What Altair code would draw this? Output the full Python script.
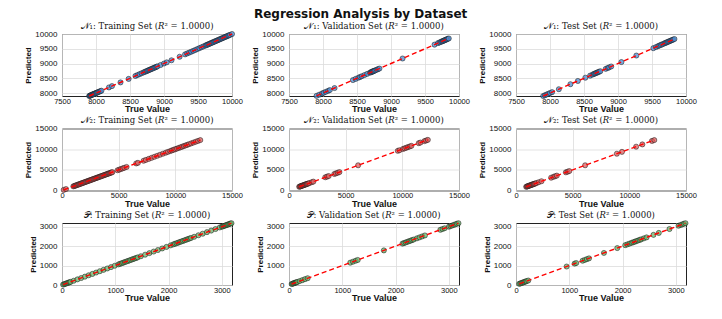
import altair as alt
import pandas as pd

# ---- values (points sit on the identity line, R^2 = 1) ----
n1_train = [7900, 7908, 7916, 7924, 7932, 7940, 7948, 7956, 7964, 7972, 7980, 7990, 8000, 8010, 8022,
            8035, 8050, 8065, 8080, 8190, 8235, 8360, 8480,
            8580, 8610, 8640, 8670, 8700, 8720, 8740, 8755, 8770, 8785, 8800, 8815, 8830, 8845, 8860,
            8875, 8890, 8905, 8950, 9000, 9040, 9110, 9230, 9310, 9340, 9370,
            9400, 9430, 9460, 9490, 9520, 9550, 9580, 9610, 9625, 9640, 9655, 9670, 9685, 9700, 9715,
            9730, 9745, 9760, 9775, 9790, 9805, 9820, 9835, 9850, 9865, 9880, 9895, 9910, 9925, 9940,
            9955, 9970, 10000]
n1_val = [7905, 7945, 7985, 8010, 8040, 8075, 8100, 8170,
          8440, 8480, 8520, 8545, 8570, 8610, 8650, 8690, 8705, 8715, 8725, 8735, 8745, 8755, 8770,
          8790, 8810, 8830, 9170,
          9640, 9690, 9715, 9735, 9750, 9762, 9774, 9786, 9798, 9810, 9822, 9835, 9850]
n1_test = [7900, 7925, 7950, 7975, 8000, 8030, 8130,
           8300, 8410, 8520, 8590, 8625, 8645, 8660, 8675, 8690, 8705, 8720, 8740, 8820, 8850, 8870,
           8900, 9050, 9270,
           9520, 9560, 9590, 9610, 9630, 9650, 9670, 9690, 9705, 9720, 9735, 9750, 9765, 9780, 9795,
           9810, 9830]

n2_train = [150, 350, 1000, 1080, 1160, 1240, 1320, 1400, 1480, 1560, 1640, 1720, 1800, 1880, 1960,
            2040, 2120, 2200, 2280, 2360, 2440, 2520, 2600, 2680, 2760, 2840, 2920, 3000, 3080, 3160,
            3240, 3320, 3400, 3480, 3560, 3640, 3720, 3800, 3880, 3960, 4040, 4120, 4200, 4280, 4360,
            4440, 4900, 5050, 5200, 5350, 5500, 5700, 6550, 6700, 7200, 7400, 7650, 7900, 8150, 8400,
            8650, 8900, 9150, 9350, 9550, 9700, 9850, 10000, 10150, 10300, 10450, 10600, 10750, 10900,
            11050, 11200, 11400, 11600, 11800, 12000, 12200]
n2_val = [900, 960, 1020, 1080, 1140, 1200, 1260, 1320, 1380, 1440, 1500, 1560, 1620, 1700, 1800,
          2000, 2150, 3200, 3350, 3500, 4000, 4150, 4300, 4450, 6100, 9600, 9750, 10050, 10200,
          10350, 10500, 10650, 10800, 11450, 11600, 11950, 12100, 12250]
n2_test = [900, 960, 1020, 1080, 1140, 1200, 1260, 1320, 1380, 1440, 1500, 1560, 1620, 1700, 1800,
           2000, 2250, 3100, 3300, 3450, 3600, 4400, 4550, 4700, 6100, 8900, 9350, 10600, 11150,
           12000, 12200]

p_train = [20, 40, 60, 80, 100, 120, 140, 160, 220, 290, 360, 430, 500, 570, 640, 710, 780, 850, 920,
           990, 1060, 1090, 1120, 1150, 1180, 1210, 1240, 1270, 1300, 1330, 1360, 1390, 1420, 1480,
           1560, 1640, 1720, 1800, 1880, 1960, 2040, 2090, 2120, 2150, 2180, 2210, 2240, 2270, 2300,
           2330, 2360, 2390, 2420, 2480, 2560, 2640, 2720, 2800, 2880, 2960, 3000, 3020, 3040, 3060,
           3080, 3100, 3120, 3140, 3160, 3180]
p_val = [50, 65, 80, 95, 110, 125, 140, 155, 200, 250, 300, 350, 1150, 1200, 1250, 1290, 1780, 2130,
         2160, 2190, 2220, 2250, 2280, 2310, 2340, 2400, 2450, 2500, 2550, 2840, 2880, 2920, 3000,
         3030, 3060, 3090, 3120, 3150, 3180]
p_test = [60, 80, 100, 120, 140, 160, 180, 200, 230, 950, 1100, 1130, 1250, 1290, 1330, 1370, 1650,
          1900, 2050, 2090, 2130, 2170, 2200, 2230, 2260, 2290, 2320, 2350, 2400, 2450, 2580, 2680,
          2880, 3050, 3090, 3120, 3150, 3180]

row_names = ["\U0001D4A9\u2081", "\U0001D4A9\u2082", "\U0001D4AB"]
set_names = ["Training Set", "Validation Set", "Test Set"]
r2_text = "1.0000"
row_data = [[n1_train, n1_val, n1_test], [n2_train, n2_val, n2_test], [p_train, p_val, p_test]]
row_colors = ["#4d8cd2", "#dc5f5f", "#6cb56c"]
row_xdom = [[7500, 10000], [0, 15000], [0, 3190]]
row_ydom = [[7900, 10000], [0, 15000], [0, 3190]]
row_xticks = [[7500, 8000, 8500, 9000, 9500, 10000], [0, 5000, 10000, 15000], [0, 1000, 2000, 3000]]
row_yticks = [[8000, 8500, 9000, 9500, 10000], [0, 5000, 10000, 15000], [0, 1000, 2000, 3000]]

W, H = 170, 62


def panel(r, c):
    vals = row_data[r][c]
    df = pd.DataFrame({"true": vals, "pred": vals})
    lo, hi = min(vals), max(vals)
    ldf = pd.DataFrame({"true": [lo, hi], "pred": [lo, hi]})
    xs = alt.Scale(domain=row_xdom[r], nice=False, zero=False)
    ys = alt.Scale(domain=row_ydom[r], nice=False, zero=False)

    def xax():
        return alt.Axis(values=row_xticks[r], title="True Value", labelFlush=False,
                        labelOverlap=False, format="d")

    def yax():
        return alt.Axis(values=row_yticks[r], title="Predicted", labelOverlap=False, format="d")

    pts = alt.Chart(df).mark_point(
        filled=True, shape="circle", size=26, fill=row_colors[r], fillOpacity=0.75,
        stroke="#111111", strokeWidth=0.6, strokeOpacity=0.85
    ).encode(x=alt.X("true:Q", scale=xs, axis=xax()), y=alt.Y("pred:Q", scale=ys, axis=yax()))
    line = alt.Chart(ldf).mark_line(color="#ff0000", strokeWidth=1.4, strokeDash=[5, 3]).encode(
        x=alt.X("true:Q", scale=xs, axis=xax()), y=alt.Y("pred:Q", scale=ys, axis=yax())
    )
    title = f"{row_names[r]}: {set_names[c]} (\U0001D445\u00B2 = {r2_text})"
    return alt.layer(pts, line).properties(
        width=W, height=H,
        title=alt.TitleParams(title, font="DejaVu Serif", fontSize=8.5, fontWeight="normal",
                              offset=0, anchor="middle", color="#111111"),
    )


chart = alt.concat(
    *[panel(r, c) for r in range(3) for c in range(3)],
    columns=3, bounds="flush", spacing={"row": 32.5, "column": 57},
).properties(
    title=alt.TitleParams("Regression Analysis by Dataset", font="DejaVu Sans", fontSize=12,
                          fontWeight="bold", anchor="middle", offset=0, color="#111111"),
    padding={"left": 16, "top": 0, "right": 4, "bottom": 2},
).configure_view(stroke="#222222", strokeWidth=1).configure_axis(
    grid=True, gridColor="#dcdcdc", gridWidth=0.8, ticks=False, domain=False,
    labelFont="Liberation Sans", labelFontSize=8, labelColor="#111111", labelPadding=4,
    titleFont="Liberation Sans", titleFontSize=9, titleFontWeight="bold", titleColor="#111111",
    titlePadding=2,
).configure_axisY(
    titleFontSize=8, titlePadding=2, labelPadding=5
).configure_axisX(labelPadding=1, titlePadding=0, labelFontSize=7.5)

chart.save("out.html", embed_options={"renderer": "svg", "actions": False})
